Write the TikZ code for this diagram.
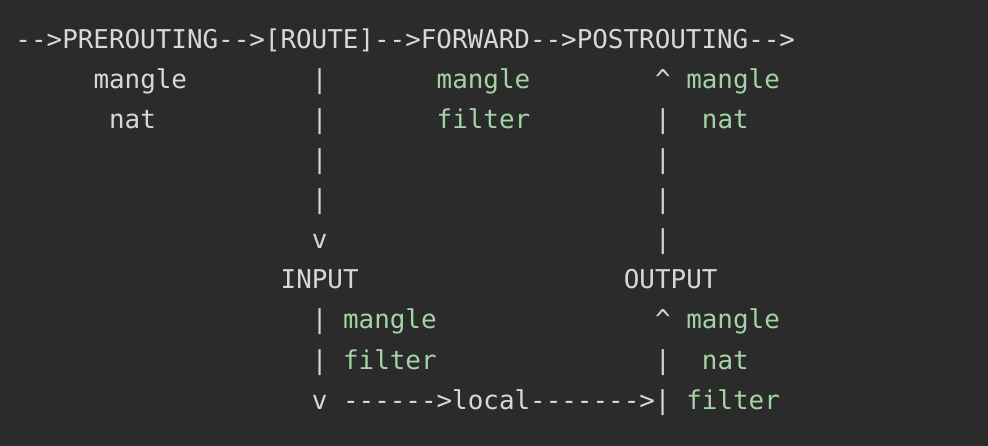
\documentclass[tikz,border=0pt]{standalone}
\usepackage{fontspec}
\setmonofont{DejaVu Sans Mono}
\definecolor{bg}{HTML}{2B2B2B}
\definecolor{fg}{HTML}{D8D8D8}
\definecolor{gr}{HTML}{A3D4A5}
\tikzset{
  txt/.style={anchor=base west, inner sep=0pt, outer sep=0pt,
    font=\ttfamily\fontsize{25.9}{26}\selectfont, text=fg},
  tbl/.style={txt, text=gr}
}
\begin{document}
\begin{tikzpicture}[x=1pt,y=1pt]
\fill[bg] (0,0) rectangle (988,-446);
\useasboundingbox (0,0) rectangle (988,-446);
\def\cw{15.6}
\def\xo{15.5}
% row 0
\node[txt] (chain) at ({\xo+0*\cw},-49) {-{}->PREROUTING-{}->[ROUTE]-{}->FORWARD-{}->POSTROUTING-{}->};
% row 1
\node[txt] (premangle) at ({\xo+5*\cw},-89) {mangle};
\node[txt] (r1a) at ({\xo+19*\cw},-89) {|};
\node[tbl] (fwdmangle) at ({\xo+27*\cw},-89) {mangle};
\node[txt] (r1b) at ({\xo+41*\cw},-89) {\textasciicircum};
\node[tbl] (postmangle) at ({\xo+43*\cw},-89) {mangle};
% row 2
\node[txt] (prenat) at ({\xo+6*\cw},-129) {nat};
\node[txt] (r2a) at ({\xo+19*\cw},-129) {|};
\node[tbl] (fwdfilter) at ({\xo+27*\cw},-129) {filter};
\node[txt] (r2b) at ({\xo+41*\cw},-129) {|};
\node[tbl] (postnat) at ({\xo+44*\cw},-129) {nat};
% rows 3-5
\node[txt] (r3a) at ({\xo+19*\cw},-169) {|};
\node[txt] (r3b) at ({\xo+41*\cw},-169) {|};
\node[txt] (r4a) at ({\xo+19*\cw},-209) {|};
\node[txt] (r4b) at ({\xo+41*\cw},-209) {|};
\node[txt] (r5a) at ({\xo+19*\cw},-249) {v};
\node[txt] (r5b) at ({\xo+41*\cw},-249) {|};
% row 6
\node[txt] (input) at ({\xo+17*\cw},-289) {INPUT};
\node[txt] (output) at ({\xo+39*\cw},-289) {OUTPUT};
% row 7
\node[txt] (r7a) at ({\xo+19*\cw},-329) {|};
\node[tbl] (inmangle) at ({\xo+21*\cw},-329) {mangle};
\node[txt] (r7b) at ({\xo+41*\cw},-329) {\textasciicircum};
\node[tbl] (outmangle) at ({\xo+43*\cw},-329) {mangle};
% row 8
\node[txt] (r8a) at ({\xo+19*\cw},-369) {|};
\node[tbl] (infilter) at ({\xo+21*\cw},-369) {filter};
\node[txt] (r8b) at ({\xo+41*\cw},-369) {|};
\node[tbl] (outnat) at ({\xo+44*\cw},-369) {nat};
% row 9
\node[txt] (r9a) at ({\xo+19*\cw},-409) {v};
\node[txt] (local) at ({\xo+21*\cw},-409) {-{}-{}-{}-{}-{}->local-{}-{}-{}-{}-{}-{}->|};
\node[tbl] (outfilter) at ({\xo+43*\cw},-409) {filter};
\end{tikzpicture}
\end{document}
